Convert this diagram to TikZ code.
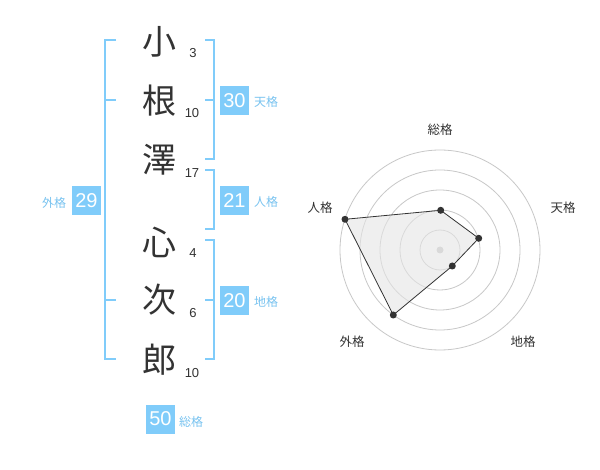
\documentclass[tikz,border=0pt]{standalone}
\usepackage{fontspec}
\setmainfont{Liberation Sans}
\newfontfamily\jp{Noto Sans CJK JP}
\definecolor{sky}{RGB}{128,204,250}
\definecolor{skytxt}{RGB}{120,195,240}
\definecolor{ink}{RGB}{51,51,51}
\definecolor{ring}{RGB}{200,200,200}
\tikzset{
  kanji/.style={font=\fontsize{34}{34}\selectfont\jp, text=ink, inner sep=0pt},
  strokes/.style={font=\fontsize{13}{13}\selectfont, text=ink, inner sep=0pt},
  bracket/.style={draw=sky, line width=2pt},
  scorebox/.style={fill=sky, text=white, minimum size=29pt, inner sep=0pt, font=\fontsize{20}{20}\selectfont},
  scorelabel/.style={text=skytxt, font=\fontsize{12}{12}\selectfont\jp, inner sep=0pt},
  axislabel/.style={text=ink, font=\fontsize{12.5}{12.5}\selectfont\jp, inner sep=0pt},
  ringline/.style={draw=ring, line width=0.8pt},
  dot/.style={circle, fill=ink, inner sep=0pt, minimum size=7pt},
}
\begin{document}
\begin{tikzpicture}[x=1pt, y=-1pt]
\path[use as bounding box, fill=white] (0,0) rectangle (600,470);
% characters
\node[kanji] (c1) at (159,42) {小};
\node[kanji] (c2) at (159,101) {根};
\node[kanji] (c3) at (159,160) {澤};
\node[kanji] (c4) at (159,242) {心};
\node[kanji] (c5) at (159,300) {次};
\node[kanji] (c6) at (159,360) {郎};
% stroke counts
\node[strokes] (n1) at (193,53) {3};
\node[strokes] (n2) at (192,113) {10};
\node[strokes] (n3) at (192,173) {17};
\node[strokes] (n4) at (193,253) {4};
\node[strokes] (n5) at (193,313) {6};
\node[strokes] (n6) at (192,373) {10};
% brackets
\draw[bracket] (116,40) -- (105,40) -- (105,359) -- (116,359);
\draw[bracket] (105,100) -- (116,100);
\draw[bracket] (105,300) -- (116,300);
\draw[bracket] (205,40) -- (214,40) -- (214,159) -- (205,159);
\draw[bracket] (205,100) -- (214,100);
\draw[bracket] (205,170) -- (214,170) -- (214,229) -- (205,229);
\draw[bracket] (205,240) -- (214,240) -- (214,359) -- (205,359);
\draw[bracket] (205,300) -- (214,300);
% score boxes
\node[scorebox] (ten) at (234.5,100.5) {30};
\node[scorelabel] (tenl) at (266,102) {天格};
\node[scorebox] (jin) at (234.5,200.5) {21};
\node[scorelabel] (jinl) at (266,202) {人格};
\node[scorebox] (chi) at (234.5,300.5) {20};
\node[scorelabel] (chil) at (266,302) {地格};
\node[scorebox] (gai) at (86.5,200.5) {29};
\node[scorelabel] (gail) at (54,203) {外格};
\node[scorebox] (sou) at (160.5,419) {50};
\node[scorelabel] (soul) at (191,422) {総格};
% radar
\coordinate (ctr) at (440,250);
\foreach \r in {20,40,60,80,100} \draw[ringline] (ctr) circle[radius=\r];
\fill[ring] (ctr) circle[radius=3.5];
\coordinate (pSou) at (440.7,210.3);
\coordinate (pTen) at (478.7,238.3);
\coordinate (pChi) at (452.3,266);
\coordinate (pGai) at (393.3,315);
\coordinate (pJin) at (345,219.3);
\draw[fill=black!10, fill opacity=0.6, draw=ink, line width=0.8pt]
  (pSou) -- (pTen) -- (pChi) -- (pGai) -- (pJin) -- cycle;
\foreach \p in {pSou,pTen,pChi,pGai,pJin} \node[dot] at (\p) {};
\node[axislabel] (aSou) at (440,130) {総格};
\node[axislabel] (aTen) at (563,208) {天格};
\node[axislabel] (aChi) at (523,342) {地格};
\node[axislabel] (aGai) at (352,342) {外格};
\node[axislabel] (aJin) at (320,208) {人格};
\end{tikzpicture}
\end{document}
